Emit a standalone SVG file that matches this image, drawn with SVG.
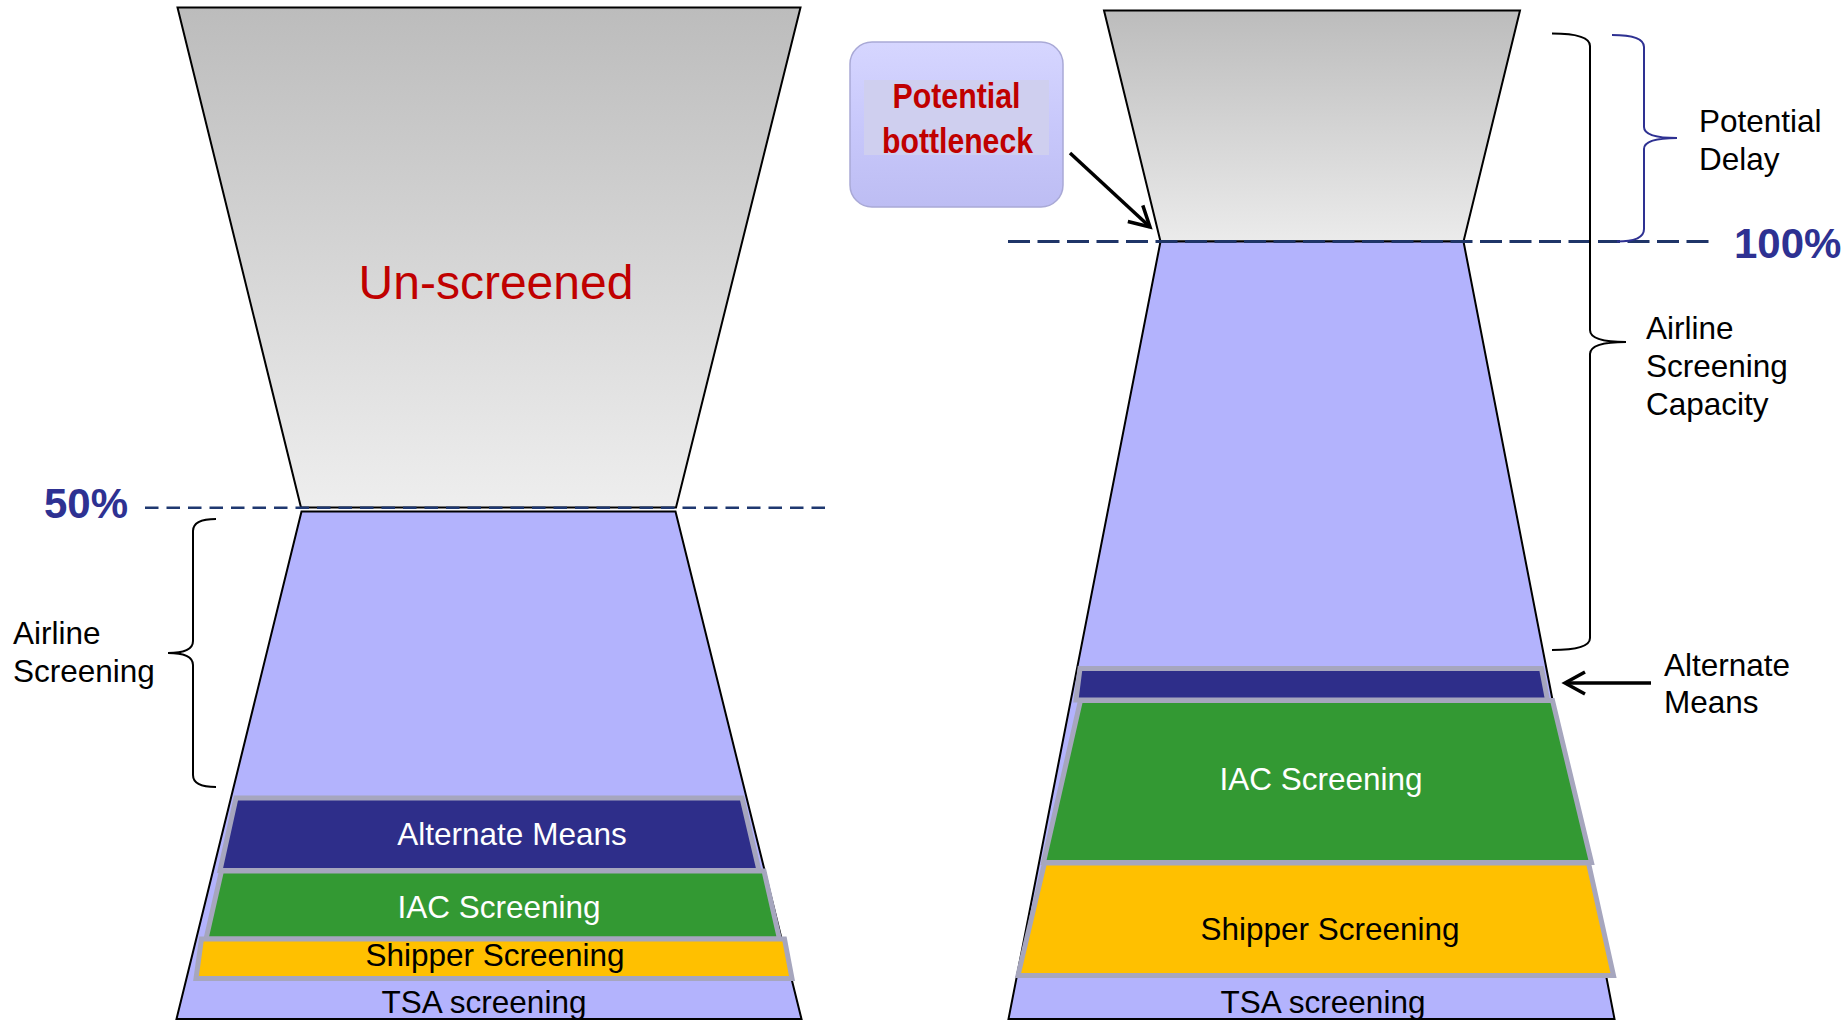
<svg xmlns="http://www.w3.org/2000/svg" width="1846" height="1020" viewBox="0 0 1846 1020">
<defs>
  <linearGradient id="grayL" x1="0" y1="0" x2="0" y2="1">
    <stop offset="0" stop-color="#BCBCBC"/>
    <stop offset="1" stop-color="#EEEEEE"/>
  </linearGradient>
  <linearGradient id="grayR" x1="0" y1="0" x2="0" y2="1">
    <stop offset="0" stop-color="#BCBCBC"/>
    <stop offset="1" stop-color="#EBEBEB"/>
  </linearGradient>
  <linearGradient id="boxG" x1="0" y1="0" x2="0" y2="1">
    <stop offset="0" stop-color="#D6D6FF"/>
    <stop offset="0.5" stop-color="#C8C8FB"/>
    <stop offset="1" stop-color="#BDBDF3"/>
  </linearGradient>
  <marker id="arr" markerUnits="userSpaceOnUse" markerWidth="40" markerHeight="40" viewBox="-30 -20 40 40" refX="0" refY="0" orient="auto">
    <path d="M-20,-11 L0,0 L-20,11" fill="none" stroke="#000" stroke-width="3.5" stroke-linejoin="miter"/>
  </marker>
  <style>
    .t { font-family: "Liberation Sans", Arial, sans-serif; font-size: 31.5px; }
    .outline { stroke: #000; stroke-width: 2; }
    .blue { fill: #B3B3FD; }
    .band { stroke: #A6A6BE; stroke-width: 5; stroke-linejoin: miter; }
    .navy { fill: #2E2E8A; }
    .green { fill: #339933; }
    .yellow { fill: #FFC000; }
    .pct { font-family: "Liberation Sans", Arial, sans-serif; font-size: 42px; font-weight: bold; fill: #2E3192; }
    .brace { fill: none; stroke-width: 2; }
  </style>
</defs>
<rect width="1846" height="1020" fill="#FFFFFF"/>

<!-- Left funnel -->
<g id="left-unscreened">
  <polygon points="177.5,7.5 800.5,7.5 676,507.5 301,507.5" fill="url(#grayL)" class="outline"/>
  <text class="t" x="496" y="299" text-anchor="middle" style="font-size:48px" fill="#C00000">Un-screened</text>
</g>
<g id="left-screened">
  <polygon points="301.5,511.5 675.5,511.5 801.5,1019 176.5,1019" class="blue outline"/>
</g>
<g id="left-alternate">
  <polygon points="236,798 742,798 759,870.5 220,870.5" class="band navy"/>
  <text class="t" x="512" y="845" text-anchor="middle" fill="#FFFFFF">Alternate Means</text>
</g>
<g id="left-iac">
  <polygon points="221.5,871 764,871 779.5,939 206,939" class="band green"/>
  <text class="t" x="499" y="918" text-anchor="middle" fill="#FFFFFF">IAC Screening</text>
</g>
<g id="left-shipper">
  <polygon points="201.5,939 784.5,939 792,978.5 196,978.5" class="band yellow"/>
  <text class="t" x="495" y="966" text-anchor="middle" fill="#000000">Shipper Screening</text>
</g>
<g id="left-tsa">
  <text class="t" x="484" y="1013" text-anchor="middle" fill="#000000">TSA screening</text>
</g>
<g id="left-50">
  <line x1="145" y1="507.7" x2="828" y2="507.7" stroke="#1F3870" stroke-width="2.4" stroke-dasharray="13.5,8"/>
  <text class="pct" x="44" y="518">50%</text>
</g>
<g id="left-airline-label">
  <path class="brace" stroke="#000" d="M216,519 Q193,519 193,531 L193,641 Q193,653 168,653 Q193,653 193,665 L193,775 Q193,787 216,787"/>
  <text class="t" x="13" y="644" fill="#000">Airline</text>
  <text class="t" x="13" y="682" fill="#000">Screening</text>
</g>

<!-- Right funnel -->
<g id="right-unscreened">
  <polygon points="1104,10.5 1520,10.5 1463.5,241.5 1160.5,241.5" fill="url(#grayR)" class="outline"/>
</g>
<g id="right-screened">
  <polygon points="1160.5,241.5 1463.5,241.5 1614.5,1019 1008.5,1019" class="blue outline"/>
</g>
<g id="right-alternate">
  <polygon points="1080,668.5 1541.5,668.5 1547.5,700 1076,700" class="band navy"/>
</g>
<g id="right-iac">
  <polygon points="1080.5,700.5 1552.5,700.5 1591.5,862.5 1043.5,862.5" class="band green"/>
  <text class="t" x="1321" y="790" text-anchor="middle" fill="#FFFFFF">IAC Screening</text>
</g>
<g id="right-shipper">
  <polygon points="1044.5,863 1588.5,863 1613.5,975.5 1018,975.5" class="band yellow"/>
  <text class="t" x="1330" y="940" text-anchor="middle" fill="#000000">Shipper Screening</text>
</g>
<g id="right-tsa">
  <text class="t" x="1323" y="1013" text-anchor="middle" fill="#000000">TSA screening</text>
</g>
<g id="right-100">
  <line x1="1008" y1="241.5" x2="1714" y2="241.5" stroke="#1F3568" stroke-width="3" stroke-dasharray="22,7.5"/>
  <text class="pct" x="1734" y="258">100%</text>
</g>

<g id="bottleneck">
  <rect x="850" y="42" width="213" height="165" rx="22" ry="22" fill="url(#boxG)" stroke="#A9A9D6" stroke-width="1.5"/>
  <rect x="864" y="80" width="185" height="75" fill="#CFCFEF"/>
  <text class="t" x="956.5" y="108" text-anchor="middle" style="font-size:35px;font-weight:bold" fill="#C00000" textLength="128" lengthAdjust="spacingAndGlyphs">Potential</text>
  <text class="t" x="957.5" y="153" text-anchor="middle" style="font-size:35px;font-weight:bold" fill="#C00000" textLength="151" lengthAdjust="spacingAndGlyphs">bottleneck</text>
</g>

<g id="delay-label">
  <path class="brace" stroke="#2E3192" d="M1612,35 Q1644,35 1644,47 L1644,127 Q1644,138 1677,138 Q1644,138 1644,149 L1644,229 Q1644,241.5 1617,241.5"/>
  <text class="t" x="1699" y="132" fill="#000">Potential</text>
  <text class="t" x="1699" y="170" fill="#000">Delay</text>
</g>
<g id="capacity-label">
  <path class="brace" stroke="#000" d="M1552,33.5 Q1590,33.5 1590,46 L1590,330 Q1590,342 1626,342 Q1590,342 1590,354 L1590,638 Q1590,650 1552,650"/>
  <text class="t" x="1646" y="339" fill="#000">Airline</text>
  <text class="t" x="1646" y="377" fill="#000">Screening</text>
  <text class="t" x="1646" y="415" fill="#000">Capacity</text>
</g>
<g id="alt-means-label">
  <text class="t" x="1664" y="676" fill="#000">Alternate</text>
  <text class="t" x="1664" y="713" fill="#000">Means</text>
</g>

<g id="connectors">
  <line x1="1070" y1="153" x2="1150" y2="227" stroke="#000" stroke-width="3.5" marker-end="url(#arr)"/>
  <line x1="1651" y1="683" x2="1565" y2="683" stroke="#000" stroke-width="3.5" marker-end="url(#arr)"/>
</g>
</svg>
